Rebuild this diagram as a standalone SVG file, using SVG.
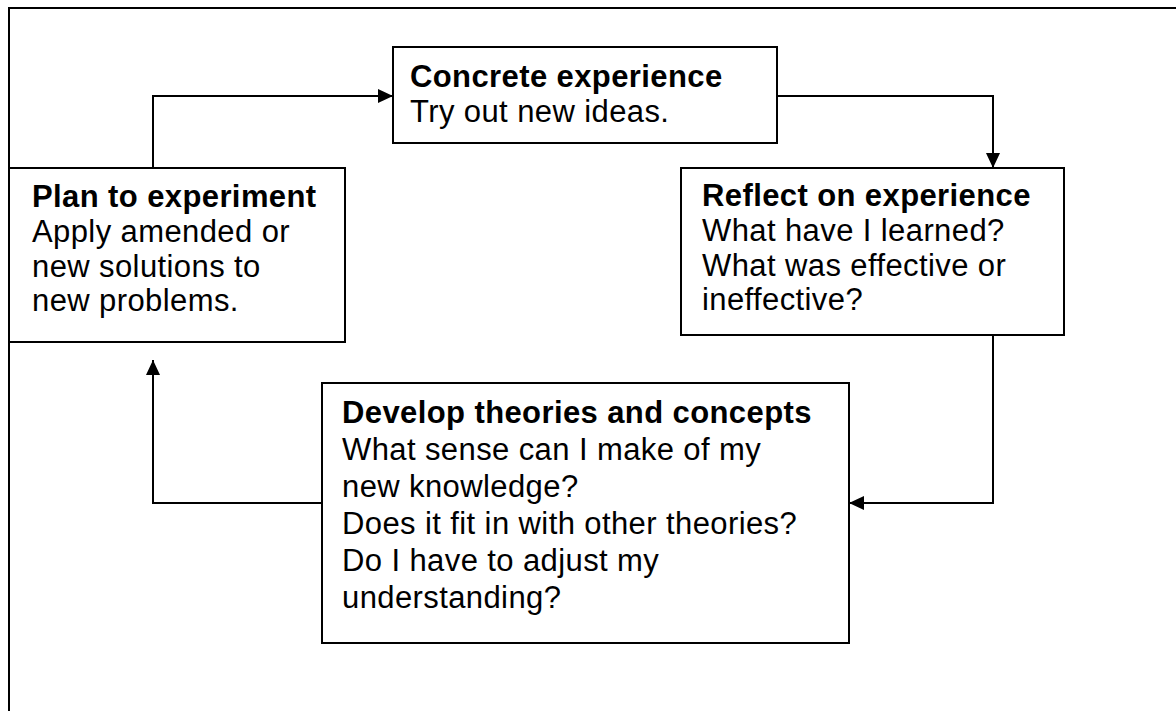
<svg xmlns="http://www.w3.org/2000/svg" width="1176" height="711" viewBox="0 0 1176 711">
  <defs>
    <marker id="arrow" viewBox="0 0 15 14" refX="15" refY="7" markerWidth="15" markerHeight="14" markerUnits="userSpaceOnUse" orient="auto">
      <path d="M0,0 L15,7 L0,14 Z" fill="#000"/>
    </marker>
    <style>
      .frame { fill: none; stroke: #000; stroke-width: 2; }
      .box { fill: #fff; stroke: #000; stroke-width: 2; }
      .link { fill: none; stroke: #000; stroke-width: 2; marker-end: url(#arrow); }
      text { font-family: "Liberation Sans", Arial, sans-serif; font-size: 31px; letter-spacing: 0.4px; fill: #000; }
      .title { font-weight: bold; }
    </style>
  </defs>

  <rect width="1176" height="711" fill="#fff"/>
  <!-- page frame running off the right and bottom edges -->
  <rect class="frame" x="9" y="8" width="1200" height="740"/>

  <g id="connectors">
    <polyline class="link" points="153,168 153,96 393,96"/>
    <polyline class="link" points="777,96 993,96 993,168"/>
    <polyline class="link" points="993,335 993,503 849,503"/>
    <polyline class="link" points="322,503 153,503 153,360"/>
  </g>

  <g id="concrete-experience">
    <rect class="box" x="393" y="47" width="384" height="96"/>
    <text x="410" y="87" class="title">Concrete experience</text>
    <text x="410" y="122">Try out new ideas.</text>
  </g>

  <g id="reflect-on-experience">
    <rect class="box" x="681" y="168" width="383" height="167"/>
    <text x="702" y="206" class="title">Reflect on experience</text>
    <text x="702" y="241">What have I learned?</text>
    <text x="702" y="276">What was effective or</text>
    <text x="702" y="310">ineffective?</text>
  </g>

  <g id="plan-to-experiment">
    <rect class="box" x="9" y="168" width="336" height="174"/>
    <text x="32" y="207" class="title">Plan to experiment</text>
    <text x="32" y="242">Apply amended or</text>
    <text x="32" y="277">new solutions to</text>
    <text x="32" y="311">new problems.</text>
  </g>

  <g id="develop-theories">
    <rect class="box" x="322" y="383" width="527" height="260"/>
    <text x="342" y="423" class="title">Develop theories and concepts</text>
    <text x="342" y="460">What sense can I make of my</text>
    <text x="342" y="497">new knowledge?</text>
    <text x="342" y="534">Does it fit in with other theories?</text>
    <text x="342" y="571">Do I have to adjust my</text>
    <text x="342" y="608">understanding?</text>
  </g>
</svg>
